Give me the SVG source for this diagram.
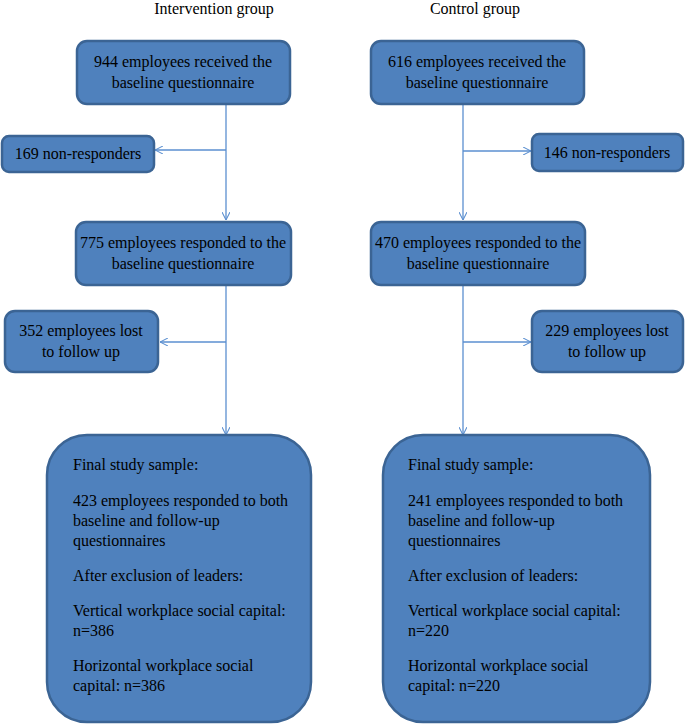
<svg xmlns="http://www.w3.org/2000/svg" width="685" height="726" viewBox="0 0 685 726">
<style>
.box{fill:#4f81bd;stroke:#3b6494;stroke-width:2.5}
.t{font-family:"Liberation Serif","Times New Roman",serif;font-size:16px;fill:#000}
.c{text-anchor:middle}
.ln{stroke:#5b8fd0;stroke-width:1.3;fill:none}
</style>
<defs>
<marker id="arr" viewBox="0 0 10 10" refX="10" refY="5" markerWidth="8" markerHeight="8" markerUnits="userSpaceOnUse" orient="auto">
<path d="M0,0 L10,5 L0,10" fill="none" stroke="#5b8fd0" stroke-width="1.3"/>
</marker>
</defs>
<rect width="685" height="726" fill="#fff"/>
<text class="t c" x="214" y="14">Intervention group</text>
<text class="t c" x="475" y="14">Control group</text>
<g id="connectors">
<line class="ln" x1="226" y1="104" x2="226" y2="220" marker-end="url(#arr)"/>
<line class="ln" x1="226" y1="150" x2="155" y2="150" marker-end="url(#arr)"/>
<line class="ln" x1="226" y1="286" x2="226" y2="435" marker-end="url(#arr)"/>
<line class="ln" x1="226" y1="342" x2="160" y2="342" marker-end="url(#arr)"/>
<line class="ln" x1="463" y1="104" x2="463" y2="220" marker-end="url(#arr)"/>
<line class="ln" x1="463" y1="151" x2="531" y2="151" marker-end="url(#arr)"/>
<line class="ln" x1="463" y1="286" x2="463" y2="435" marker-end="url(#arr)"/>
<line class="ln" x1="463" y1="342" x2="531" y2="342" marker-end="url(#arr)"/>
</g>
<g id="n944">
<rect class="box" x="77" y="41" width="213" height="63" rx="10"/>
<text class="t c" x="183" y="67">944 employees received the</text>
<text class="t c" x="183" y="88">baseline questionnaire</text>
</g>
<g id="n616">
<rect class="box" x="371" y="41" width="213" height="63" rx="10"/>
<text class="t c" x="477" y="67">616 employees received the</text>
<text class="t c" x="477" y="88">baseline questionnaire</text>
</g>
<g id="n169">
<rect class="box" x="2" y="136" width="152" height="36" rx="7"/>
<text class="t c" x="78" y="159">169 non-responders</text>
</g>
<g id="n146">
<rect class="box" x="532" y="134" width="151" height="37" rx="7"/>
<text class="t c" x="607" y="158">146 non-responders</text>
</g>
<g id="n775">
<rect class="box" x="76" y="222" width="215" height="63" rx="10"/>
<text class="t c" x="183" y="248">775 employees responded to the</text>
<text class="t c" x="183" y="269">baseline questionnaire</text>
</g>
<g id="n470">
<rect class="box" x="371" y="222" width="214" height="63" rx="10"/>
<text class="t c" x="478" y="248">470 employees responded to the</text>
<text class="t c" x="478" y="269">baseline questionnaire</text>
</g>
<g id="n352">
<rect class="box" x="5" y="311" width="153" height="61" rx="10"/>
<text class="t c" x="81" y="336">352 employees lost</text>
<text class="t c" x="81" y="357">to follow up</text>
</g>
<g id="n229">
<rect class="box" x="532" y="311" width="151" height="61" rx="10"/>
<text class="t c" x="607" y="336">229 employees lost</text>
<text class="t c" x="607" y="357">to follow up</text>
</g>
<g id="finalL">
<rect class="box" x="47" y="435" width="264" height="287" rx="40"/>
<text class="t" x="73" y="470">Final study sample:</text>
<text class="t" x="73" y="506">423 employees responded to both</text>
<text class="t" x="73" y="526">baseline and follow-up</text>
<text class="t" x="73" y="546">questionnaires</text>
<text class="t" x="73" y="581">After exclusion of leaders:</text>
<text class="t" x="73" y="616">Vertical workplace social capital:</text>
<text class="t" x="73" y="636">n=386</text>
<text class="t" x="73" y="671">Horizontal workplace social</text>
<text class="t" x="73" y="691">capital: n=386</text>
</g>
<g id="finalR">
<rect class="box" x="383" y="435" width="267" height="287" rx="40"/>
<text class="t" x="408" y="470">Final study sample:</text>
<text class="t" x="408" y="506">241 employees responded to both</text>
<text class="t" x="408" y="526">baseline and follow-up</text>
<text class="t" x="408" y="546">questionnaires</text>
<text class="t" x="408" y="581">After exclusion of leaders:</text>
<text class="t" x="408" y="616">Vertical workplace social capital:</text>
<text class="t" x="408" y="636">n=220</text>
<text class="t" x="408" y="671">Horizontal workplace social</text>
<text class="t" x="408" y="691">capital: n=220</text>
</g>
</svg>
